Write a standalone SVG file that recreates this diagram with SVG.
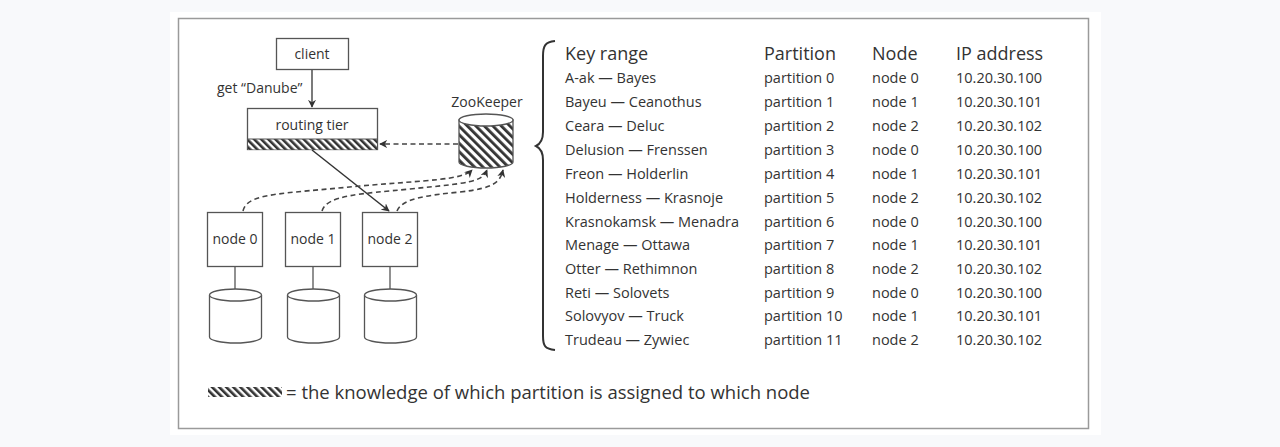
<svg xmlns="http://www.w3.org/2000/svg" width="1280" height="447" viewBox="0 0 1280 447">
<defs>
<style>
.t{font-family:"Open Sans","Liberation Sans",sans-serif;fill:#333}
.box{fill:#fff;stroke:#555;stroke-width:1.3}
.row{font-size:14.5px}
.hd{font-size:18px}
.dash{fill:none;stroke:#444;stroke-width:1.6;stroke-dasharray:5 3.5}
</style>
<pattern id="h1" width="5" height="5" patternUnits="userSpaceOnUse" patternTransform="rotate(-45)">
<rect width="5" height="5" fill="#fff"/><rect width="2.6" height="5" fill="#333"/>
</pattern>
<pattern id="h2" width="6" height="6" patternUnits="userSpaceOnUse" patternTransform="rotate(-45)">
<rect width="6" height="6" fill="#fff"/><rect width="2.8" height="6" fill="#333"/>
</pattern>
<marker id="ah" viewBox="0 0 10 10" refX="9" refY="5" markerWidth="8" markerHeight="8" markerUnits="userSpaceOnUse" orient="auto">
<path d="M0,0 L10,5 L0,10 L3,5 Z" fill="#333"/>
</marker>
</defs>
<rect width="1280" height="447" fill="#f8f9fb"/>
<rect x="170" y="12" width="931" height="423" fill="#fff"/>
<rect x="178.5" y="18.5" width="910" height="410" fill="none" stroke="#9a9a9a" stroke-width="1.5"/>

<g id="connectors">
<line x1="312" y1="70" x2="312" y2="107" stroke="#333" stroke-width="1.3" marker-end="url(#ah)"/>
<line x1="312" y1="150" x2="389" y2="211" stroke="#333" stroke-width="1.5" marker-end="url(#ah)"/>
<line x1="458" y1="144" x2="380" y2="144" class="dash" marker-end="url(#ah)"/>
<path d="M243,211 C247,193 280,194 360,186 C430,180 462,180 472,170" class="dash" marker-end="url(#ah)"/>
<path d="M322,211 C327,195 360,194 410,189 C470,183 482,182 487,170" class="dash" marker-end="url(#ah)"/>
<path d="M397,211 C402,198 430,195 460,192 C495,188 500,182 503,170" class="dash" marker-end="url(#ah)"/>
<line x1="235" y1="267" x2="235" y2="289" stroke="#555" stroke-width="1.3"/>
<line x1="313" y1="267" x2="313" y2="289" stroke="#555" stroke-width="1.3"/>
<line x1="390" y1="267" x2="390" y2="289" stroke="#555" stroke-width="1.3"/>
</g>
<text class="t" x="217" y="93" font-size="14">get “Danube”</text>

<g id="client">
<rect class="box" x="276.5" y="38.5" width="72" height="31"/>
<text class="t" x="312" y="59" font-size="14" text-anchor="middle">client</text>
</g>

<g id="routing-tier">
<rect class="box" x="247.5" y="108.5" width="130" height="41"/>
<rect x="248" y="139" width="129" height="10.5" fill="url(#h1)"/>
<line x1="247.5" y1="139" x2="377.5" y2="139" stroke="#555" stroke-width="1"/>
<text class="t" x="312" y="130" font-size="14" text-anchor="middle">routing tier</text>
</g>

<g id="zookeeper">
<text class="t" x="487" y="107" font-size="14" text-anchor="middle">ZooKeeper</text>
<path d="M459,120 L459,162 A27,6 0 0 0 513,162 L513,120 Z" fill="url(#h2)" stroke="#555" stroke-width="1.3"/>
<ellipse cx="486" cy="120" rx="27" ry="6" fill="#fff" stroke="#555" stroke-width="1.3"/>
</g>

<g id="node0">
<rect class="box" x="207.5" y="212.5" width="55" height="54"/>
<text class="t" x="235" y="244" font-size="14" text-anchor="middle">node 0</text>
<path d="M209.5,295 L209.5,337 A26,6 0 0 0 261.5,337 L261.5,295" class="box"/>
<ellipse cx="235.5" cy="295" rx="26" ry="6" class="box"/>
</g>
<g id="node1">
<rect class="box" x="285.5" y="212.5" width="55" height="54"/>
<text class="t" x="313" y="244" font-size="14" text-anchor="middle">node 1</text>
<path d="M287.5,295 L287.5,337 A26,6 0 0 0 339.5,337 L339.5,295" class="box"/>
<ellipse cx="313.5" cy="295" rx="26" ry="6" class="box"/>
</g>
<g id="node2">
<rect class="box" x="362.5" y="212.5" width="55" height="54"/>
<text class="t" x="390" y="244" font-size="14" text-anchor="middle">node 2</text>
<path d="M364.5,295 L364.5,337 A26,6 0 0 0 416.5,337 L416.5,295" class="box"/>
<ellipse cx="390.5" cy="295" rx="26" ry="6" class="box"/>
</g>

<g id="table">
<path d="M555,41 C545,42 543,46 543,56 L543,132 C543,140 540,144 536,146 C540,148 543,152 543,160 L543,336 C543,346 545,349 555,350" fill="none" stroke="#333" stroke-width="2"/>
<g class="t hd">
<text x="565" y="60">Key range</text><text x="764" y="60">Partition</text><text x="872" y="60">Node</text><text x="956" y="60">IP address</text>
</g>
<g class="t row">
<text x="565" y="83">A-ak — Bayes</text><text x="764" y="83">partition 0</text><text x="872" y="83">node 0</text><text x="956" y="83">10.20.30.100</text>
<text x="565" y="107">Bayeu — Ceanothus</text><text x="764" y="107">partition 1</text><text x="872" y="107">node 1</text><text x="956" y="107">10.20.30.101</text>
<text x="565" y="131">Ceara — Deluc</text><text x="764" y="131">partition 2</text><text x="872" y="131">node 2</text><text x="956" y="131">10.20.30.102</text>
<text x="565" y="155">Delusion — Frenssen</text><text x="764" y="155">partition 3</text><text x="872" y="155">node 0</text><text x="956" y="155">10.20.30.100</text>
<text x="565" y="179">Freon — Holderlin</text><text x="764" y="179">partition 4</text><text x="872" y="179">node 1</text><text x="956" y="179">10.20.30.101</text>
<text x="565" y="203">Holderness — Krasnoje</text><text x="764" y="203">partition 5</text><text x="872" y="203">node 2</text><text x="956" y="203">10.20.30.102</text>
<text x="565" y="227">Krasnokamsk — Menadra</text><text x="764" y="227">partition 6</text><text x="872" y="227">node 0</text><text x="956" y="227">10.20.30.100</text>
<text x="565" y="250">Menage — Ottawa</text><text x="764" y="250">partition 7</text><text x="872" y="250">node 1</text><text x="956" y="250">10.20.30.101</text>
<text x="565" y="274">Otter — Rethimnon</text><text x="764" y="274">partition 8</text><text x="872" y="274">node 2</text><text x="956" y="274">10.20.30.102</text>
<text x="565" y="298">Reti — Solovets</text><text x="764" y="298">partition 9</text><text x="872" y="298">node 0</text><text x="956" y="298">10.20.30.100</text>
<text x="565" y="321">Solovyov — Truck</text><text x="764" y="321">partition 10</text><text x="872" y="321">node 1</text><text x="956" y="321">10.20.30.101</text>
<text x="565" y="345">Trudeau — Zywiec</text><text x="764" y="345">partition 11</text><text x="872" y="345">node 2</text><text x="956" y="345">10.20.30.102</text>
</g>
</g>

<g id="legend">
<rect x="208" y="387" width="74" height="10" fill="url(#h1)"/>
<text class="t" x="286" y="399" font-size="18.5">= the knowledge of which partition is assigned to which node</text>
</g>
</svg>
